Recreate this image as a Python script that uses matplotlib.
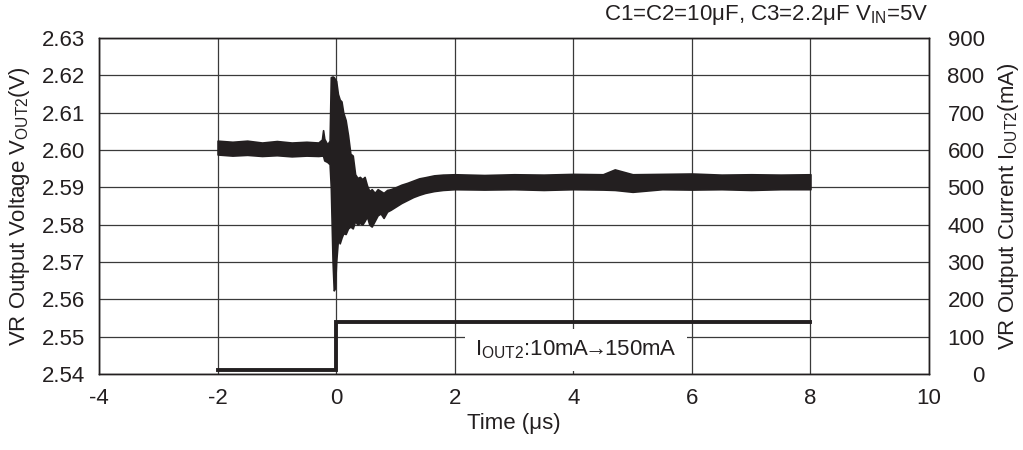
import matplotlib
matplotlib.use("Agg")
import matplotlib.pyplot as plt

plt.rcParams['font.family'] = ['Liberation Sans', 'DejaVu Sans']
plt.rcParams['mathtext.default'] = 'regular'
plt.rcParams['axes.unicode_minus'] = False

# voltage trace envelope (upper / lower edge of the noisy scope trace), us / V
t_env = [-2.0, -1.75, -1.5, -1.25, -1.0, -0.75, -0.5, -0.3, -0.24, -0.22, -0.2,
         -0.15, -0.11, -0.09, -0.06, -0.04, -0.02, 0.0, 0.03, 0.06, 0.09, 0.12,
         0.16, 0.2, 0.24, 0.28, 0.32, 0.36, 0.4, 0.44, 0.48, 0.52, 0.56, 0.6,
         0.65, 0.7, 0.75, 0.8, 0.86, 0.92, 1.0, 1.1, 1.2, 1.3, 1.4, 1.5, 1.65,
         1.8, 2.0, 2.5, 3.0, 3.5, 4.0, 4.5, 4.7, 5.0, 5.5, 6.0, 6.5, 7.0, 7.5, 8.0]
v_hi = [2.6025, 2.6022, 2.6025, 2.6020, 2.6024, 2.6020, 2.6022, 2.6020, 2.6028,
        2.6053, 2.6030, 2.6015, 2.6025, 2.6195, 2.6197, 2.6195, 2.6190, 2.6185,
        2.6150, 2.6135, 2.6130, 2.6100, 2.6080, 2.6040, 2.5990, 2.5985, 2.5935,
        2.5925, 2.5928, 2.5922, 2.5928, 2.5905, 2.5890, 2.5895, 2.5885, 2.5895,
        2.5890, 2.5885, 2.5893, 2.5895, 2.5900, 2.5907, 2.5912, 2.5918, 2.5924,
        2.5927, 2.5932, 2.5934, 2.5935, 2.5933, 2.5935, 2.5934, 2.5936, 2.5935,
        2.5948, 2.5935, 2.5936, 2.5937, 2.5934, 2.5935, 2.5934, 2.5935]
v_lo = [2.5988, 2.5985, 2.5987, 2.5984, 2.5986, 2.5983, 2.5985, 2.5984, 2.5985,
        2.5984, 2.5972, 2.5968, 2.5962, 2.5900, 2.5700, 2.5624, 2.5630, 2.5700,
        2.5760, 2.5750, 2.5765, 2.5777, 2.5775, 2.5790, 2.5795, 2.5790, 2.5810,
        2.5800, 2.5805, 2.5800, 2.5810, 2.5822, 2.5800, 2.5795, 2.5810, 2.5825,
        2.5830, 2.5818, 2.5835, 2.5840, 2.5848, 2.5858, 2.5866, 2.5874, 2.5880,
        2.5885, 2.5890, 2.5893, 2.5895, 2.5894, 2.5895, 2.5893, 2.5895, 2.5894,
        2.5893, 2.5888, 2.5895, 2.5894, 2.5895, 2.5893, 2.5895, 2.5895]

# load current step, us / mA
t_cur = [-2, 0, 0, 8]
i_cur = [10, 10, 140, 140]

x_ticks = [-4, -2, 0, 2, 4, 6, 8, 10]
v_ticks = [2.54, 2.55, 2.56, 2.57, 2.58, 2.59, 2.60, 2.61, 2.62, 2.63]
i_ticks = [0, 100, 200, 300, 400, 500, 600, 700, 800, 900]

ink = '#231f20'
fs = 16

fig = plt.figure(figsize=(10.23, 4.5), dpi=100)
ax = fig.add_axes([99 / 1023, 1 - 374 / 450, 830 / 1023, 336 / 450])
ax2 = ax.twinx()

ax.fill_between(t_env, v_lo, v_hi, color=ink, lw=1.2, edgecolor=ink, zorder=3)
ax2.plot(t_cur, i_cur, color=ink, lw=2.8, solid_joinstyle='miter')

ax.set_xlim(-4, 10)
ax.set_ylim(2.54, 2.63)
ax2.set_ylim(0, 900)
ax.set_xticks(x_ticks)
ax.set_yticks(v_ticks)
ax.set_yticklabels([f"{v:.2f}" for v in v_ticks])
ax2.set_yticks(i_ticks)

ax.grid(True, color='#3a3a3a', lw=0.9)
ax.set_axisbelow(True)
for a in (ax, ax2):
    for s in a.spines.values():
        s.set_color(ink)
        s.set_linewidth(1.0)
ax.tick_params(axis='both', length=0, labelsize=fs, colors=ink)
ax.tick_params(axis='x', pad=10)
ax.tick_params(axis='y', pad=10)
ax2.tick_params(axis='y', length=0, labelsize=fs, colors=ink, pad=40)
for lab in ax2.get_yticklabels():
    lab.set_horizontalalignment('right')

ax.set_xlabel('Time (μs)', fontsize=fs, color=ink, labelpad=3)
ax.set_ylabel('VR Output Voltage V$_{OUT2}$(V)', fontsize=fs, color=ink, labelpad=7)
ax2.set_ylabel('VR Output Current I$_{OUT2}$(mA)', fontsize=fs, color=ink, labelpad=8)

ax2.text(4.05, 64, 'I$_{OUT2}$:10mA$\\!\\!\\rightarrow\\!\\!$150mA', fontsize=fs,
         color=ink, ha='center', va='center',
         bbox=dict(boxstyle='square,pad=0.45', fc='white', ec='none'))

fig.text(929 / 1023, 1 - 15 / 450, 'C1=C2=10μF, C3=2.2μF V$_{IN}$=5V',
         fontsize=16, color=ink, ha='right', va='center')

fig.savefig('out.png', dpi=100)
